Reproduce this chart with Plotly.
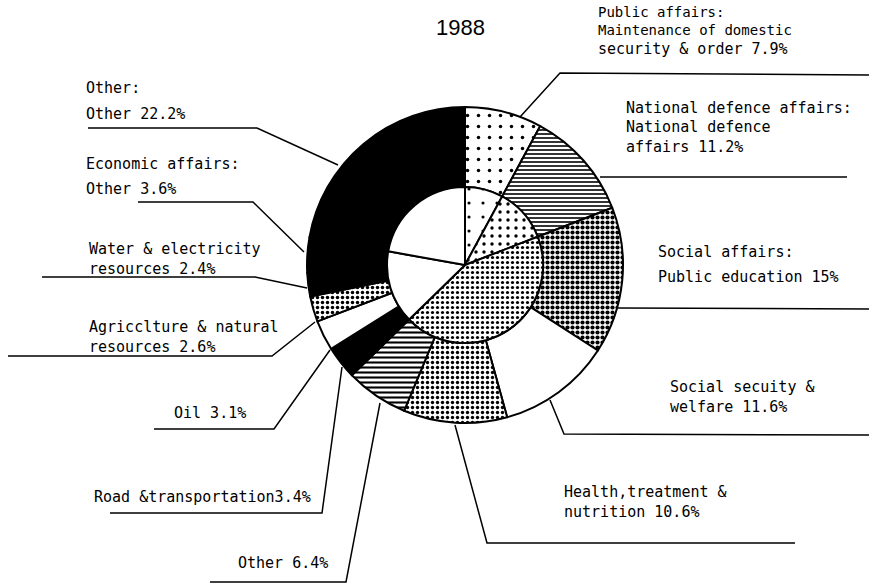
import plotly.graph_objects as go

W, H = 869, 584

# Outer ring: individual budget items (% of total), clockwise from 12 o'clock
items = [
    "Maintenance of domestic security & order",
    "National defence affairs",
    "Public education",
    "Social security & welfare",
    "Health, treatment & nutrition",
    "Other social affairs",
    "Road & transportation",
    "Oil",
    "Agriculture & natural resources",
    "Water & electricity resources",
    "Other economic affairs",
    "Other",
]
item_values = [7.9, 11.2, 15, 11.6, 10.6, 6.4, 3.4, 3.1, 2.6, 2.4, 3.6, 22.2]
item_groups = [
    "Public affairs", "National defence affairs",
    "Social affairs", "Social affairs", "Social affairs", "Social affairs",
    "Economic affairs", "Economic affairs", "Economic affairs",
    "Economic affairs", "Economic affairs",
    "Other",
]

# Inner pie: the function groups, each the sum of its items
groups = ["Public affairs", "National defence affairs", "Social affairs",
          "Economic affairs", "Other"]
group_values = [round(sum(v for v, g in zip(item_values, item_groups) if g == grp), 1)
                for grp in groups]

# Label text blocks for each outer item ({v} is replaced by the item's value);
# lines inside one block are stacked with <br>
label_blocks = [
    ["Public affairs:<br>Maintenance of domestic", "security & order {v}%"],
    ["National defence affairs:", "National defence<br>affairs {v}%"],
    ["Social affairs:", "Public education {v}%"],
    ["Social secuity &<br>welfare {v}%"],
    ["Health,treatment &<br>nutrition {v}%"],
    ["Other {v}%"],
    ["Road &transportation{v}%"],
    ["Oil {v}%"],
    ["Agricclture & natural<br>resources {v}%"],
    ["Water & electricity<br>resources {v}%"],
    ["Economic affairs:", "Other {v}%"],
    ["Other:", "Other {v}%"],
]
title_text = "1988"

# ---- styling / layout (pixel positions, y measured from the top) ----
CX, CY, R_OUT, R_IN = 465, 265, 158, 78

# (background colour, pattern shape, pattern size, solidity)
item_fill = [
    ("white", ".", 11, 0.08),
    ("white", "-", 4, 0.40),
    ("white", ".", 5, 0.55),
    ("white", "", 8, 0.3),
    ("white", ".", 5, 0.36),
    ("white", "-", 5, 0.42),
    ("black", "", 8, 0.3),
    ("white", "", 8, 0.3),
    ("white", ".", 5, 0.38),
    ("black", "", 8, 0.3),
    ("black", "", 8, 0.3),
    ("black", "", 8, 0.3),
]
group_fill = [
    ("white", ".", 14, 0.04),
    ("white", ".", 8, 0.14),
    ("white", ".", 5, 0.33),
    ("white", "", 8, 0.3),
    ("white", "", 8, 0.3),
]

# x of the left edge, centre y of each block, font size of each block
label_pos = [
    (597, [21, 49], [14, 15]),
    (625, [108, 137], [15, 15]),
    (657, [252, 277], [15, 15]),
    (669, [397], [15]),
    (563, [502], [15]),
    (237, [563], [15]),
    (93, [497], [15]),
    (173, [413], [15]),
    (88, [337], [15]),
    (88, [259], [15]),
    (85, [164, 189], [15, 15]),
    (85, [88, 114], [15, 15]),
]
leaders = [
    [(520, 117), (560, 73), (869, 75)],
    [(600, 177), (847, 177)],
    [(618, 308), (869, 309)],
    [(550, 400), (564, 434), (869, 435)],
    [(455, 425), (487, 543), (795, 543)],
    [(210, 582), (346, 582), (380, 403)],
    [(110, 513), (322, 513), (342, 367)],
    [(154, 429), (274, 429), (330, 350)],
    [(8, 356), (272, 356), (315, 322)],
    [(42, 277), (255, 277), (307, 288)],
    [(138, 202), (253, 202), (304, 252)],
    [(88, 128), (257, 128), (338, 165)],
]


def px(x):
    return x / W


def py(y):
    return 1 - y / H


def domain(r):
    return dict(x=[px(CX - r), px(CX + r)], y=[py(CY + r), py(CY - r)])


def pie_marker(fills):
    return dict(
        colors=[f[0] for f in fills],
        line=dict(color="black", width=2),
        pattern=dict(
            shape=[f[1] for f in fills],
            size=[f[2] for f in fills],
            solidity=[f[3] for f in fills],
            fgcolor="black",
            fillmode="replace",
        ),
    )


fig = go.Figure()
fig.add_trace(go.Pie(
    labels=items, values=item_values, sort=False, direction="clockwise",
    rotation=0, hole=R_IN / R_OUT, domain=domain(R_OUT),
    marker=pie_marker(item_fill), textinfo="none", hoverinfo="label+value",
    showlegend=False,
))
fig.add_trace(go.Pie(
    labels=groups, values=group_values, sort=False, direction="clockwise",
    rotation=0, domain=domain(R_IN),
    marker=pie_marker(group_fill), textinfo="none", hoverinfo="label+value",
    showlegend=False,
))

annotations = [dict(
    text=title_text, x=px(460), y=py(27), xref="paper", yref="paper",
    showarrow=False, xanchor="center", yanchor="middle",
    font=dict(family="Liberation Sans", size=22, color="black"),
)]
for v, blocks, (lx, ys, sizes) in zip(item_values, label_blocks, label_pos):
    for block, ly, fs in zip(blocks, ys, sizes):
        annotations.append(dict(
            text=block.replace("{v}", f"{v:g}"), x=px(lx), y=py(ly),
            xref="paper", yref="paper", showarrow=False, align="left",
            xanchor="left", yanchor="middle", borderpad=0,
            font=dict(family="DejaVu Sans Mono", size=fs, color="black"),
        ))

shapes = []
for pts in leaders:
    path = "M " + " L ".join(f"{px(x)},{py(y)}" for x, y in pts)
    shapes.append(dict(type="path", path=path, xref="paper", yref="paper",
                       line=dict(color="black", width=1.5)))

fig.update_layout(
    width=W, height=H, margin=dict(l=0, r=0, t=0, b=0),
    paper_bgcolor="white", plot_bgcolor="white",
    annotations=annotations, shapes=shapes, showlegend=False,
)

fig.write_html("out.html", config={"displayModeBar": False})
